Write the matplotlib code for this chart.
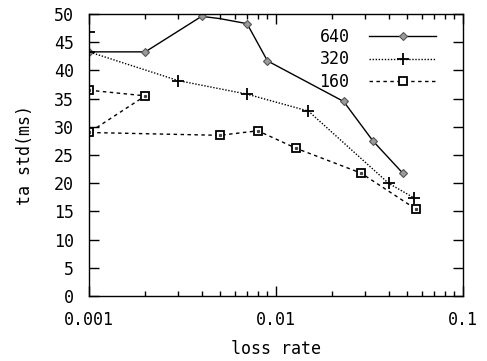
import numpy as np
import matplotlib
matplotlib.use("Agg")
import matplotlib.pyplot as plt
from matplotlib.ticker import LogLocator, NullFormatter, FixedLocator

# ---------------------------
# Data: std of ta (ms) vs loss rate for three rates
# ---------------------------
loss_640 = [0.001, 0.002, 0.004, 0.005, 0.007, 0.009, 0.023, 0.033, 0.0476]
std_640 = [43.3, 43.3, 49.6, 49.2, 48.3, 41.7, 34.5, 27.5, 21.8]

loss_320 = [0.001, 0.001, 0.003, 0.007, 0.0149, 0.040, 0.0547]
std_320 = [46.9, 43.3, 38.2, 35.8, 32.8, 20.0, 17.4]

loss_160 = [0.001, 0.002, 0.001, 0.005, 0.008, 0.0128, 0.0285, 0.0561]
std_160 = [36.5, 35.5, 29.0, 28.5, 29.3, 26.2, 21.8, 15.4]

series_labels = ["640", "320", "160"]
y_ticks = [0, 5, 10, 15, 20, 25, 30, 35, 40, 45, 50]
x_ticks = [0.001, 0.01, 0.1]
x_tick_labels = ["0.001", "0.01", "0.1"]

plt.rcParams['font.family'] = ['DejaVu Sans Mono']
plt.rcParams['font.size'] = 12

fig = plt.figure(figsize=(4.87, 3.61), dpi=100)
ax = fig.add_axes([0.1828, 0.180, 0.7679, 0.781])

# the 0.005 vertex of the 640 curve carries no marker
marks_640 = [i for i in range(len(loss_640)) if i != 3]
ax.plot(loss_640, std_640, color='black', linestyle='-', linewidth=1.0,
        marker='D', markersize=4.5, markerfacecolor='#9a9a9a',
        markeredgecolor='#555555', markeredgewidth=0.8, markevery=marks_640,
        label=series_labels[0])
ax.plot(loss_320, std_320, color='black', linestyle=(0, (1, 1.2)), linewidth=1.0,
        marker='+', markersize=9, markeredgewidth=1.3, label=series_labels[1])
ax.plot(loss_160, std_160, color='black', linestyle=(0, (2.5, 2.5)), linewidth=1.0,
        marker='s', markersize=5.5, markerfacecolor='white',
        markeredgecolor='black', markeredgewidth=1.3, label=series_labels[2])
# small dot inside each square marker
ax.plot(loss_160, std_160, linestyle='none', marker='s', markersize=1.3,
        color='#444444')

ax.set_xscale('log')
ax.set_xlim(0.001, 0.1)
ax.set_ylim(0, 50)

ax.xaxis.set_major_locator(FixedLocator(x_ticks))
ax.set_xticklabels(x_tick_labels)
ax.xaxis.set_minor_locator(LogLocator(base=10, subs=np.arange(2, 10)))
ax.xaxis.set_minor_formatter(NullFormatter())
ax.set_yticks(y_ticks)

ax.tick_params(axis='both', which='major', direction='in', length=7.5, width=1,
               top=True, right=True, pad=11)
ax.tick_params(axis='x', which='minor', direction='in', length=3.5, width=1,
               top=True)
for s in ax.spines.values():
    s.set_linewidth(1.0)

ax.set_xlabel("loss rate", labelpad=8)
ax.set_ylabel("ta std(ms)", labelpad=14)

ax.legend(loc='upper right', bbox_to_anchor=(0.955, 0.985), frameon=False,
          markerfirst=False, handlelength=4.0, handletextpad=1.2,
          labelspacing=0.25, numpoints=1, borderaxespad=0.2)

fig.savefig("out.png", dpi=100)
